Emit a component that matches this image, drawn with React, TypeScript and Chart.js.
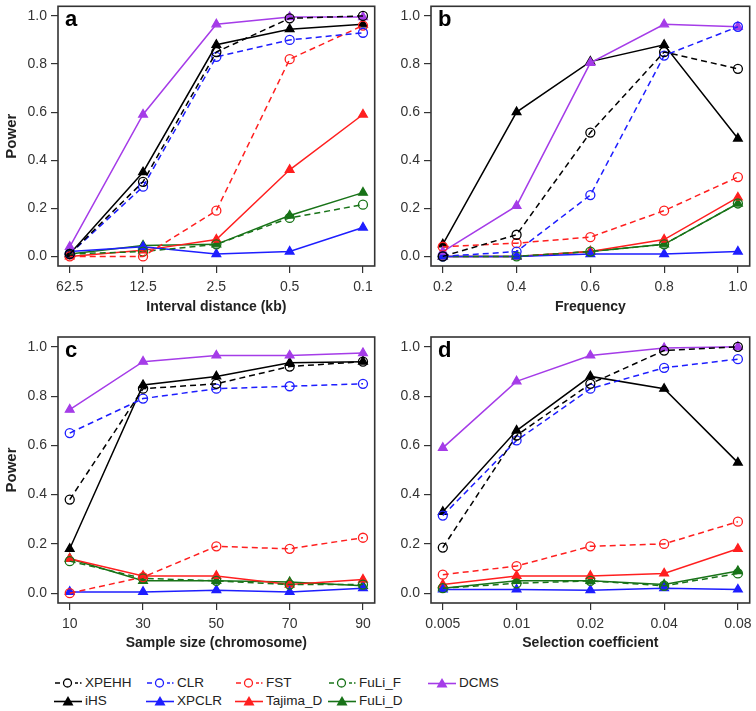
import React, { useEffect, useRef } from 'react';
import { Chart, registerables } from 'chart.js';
Chart.register(...registerables);

// ---------- data ----------
const SERIES_NAMES = ['XPEHH', 'CLR', 'FST', 'FuLi_F', 'DCMS', 'iHS', 'XPCLR', 'Tajima_D', 'FuLi_D'];

const LABELS_A = ['62.5', '12.5', '2.5', '0.5', '0.1'];
const A_XPEHH = [0.01, 0.31, 0.85, 0.99, 1.0];
const A_CLR = [0.01, 0.29, 0.83, 0.9, 0.93];
const A_FST = [0.0, 0.0, 0.19, 0.82, 0.96];
const A_FULI_F = [0.01, 0.02, 0.05, 0.16, 0.215];
const A_DCMS = [0.04, 0.59, 0.965, 0.995, 0.995];
const A_IHS = [0.01, 0.35, 0.88, 0.945, 0.965];
const A_XPCLR = [0.02, 0.04, 0.01, 0.02, 0.12];
const A_TAJIMA = [0.0, 0.025, 0.07, 0.36, 0.59];
const A_FULI_D = [0.01, 0.045, 0.05, 0.17, 0.265];

const LABELS_B = ['0.2', '0.4', '0.6', '0.8', '1.0'];
const B_XPEHH = [0.0, 0.09, 0.515, 0.85, 0.78];
const B_CLR = [0.0, 0.02, 0.255, 0.835, 0.955];
const B_FST = [0.04, 0.055, 0.08, 0.19, 0.33];
const B_FULI_F = [0.0, 0.0, 0.02, 0.05, 0.22];
const B_DCMS = [0.02, 0.21, 0.805, 0.965, 0.955];
const B_IHS = [0.05, 0.6, 0.81, 0.88, 0.49];
const B_XPCLR = [0.0, 0.0, 0.01, 0.01, 0.02];
const B_TAJIMA = [0.0, 0.0, 0.02, 0.07, 0.245];
const B_FULI_D = [0.0, 0.0, 0.02, 0.05, 0.22];

const LABELS_C = ['10', '30', '50', '70', '90'];
const C_XPEHH = [0.38, 0.83, 0.85, 0.92, 0.94];
const C_CLR = [0.65, 0.79, 0.83, 0.84, 0.85];
const C_FST = [0.0, 0.065, 0.19, 0.18, 0.225];
const C_FULI_F = [0.13, 0.06, 0.05, 0.035, 0.035];
const C_DCMS = [0.745, 0.94, 0.965, 0.965, 0.975];
const C_IHS = [0.18, 0.845, 0.88, 0.935, 0.94];
const C_XPCLR = [0.005, 0.005, 0.012, 0.005, 0.02];
const C_TAJIMA = [0.14, 0.07, 0.07, 0.035, 0.055];
const C_FULI_D = [0.14, 0.05, 0.05, 0.045, 0.03];

const LABELS_D = ['0.005', '0.01', '0.02', '0.04', '0.08'];
const D_XPEHH = [0.185, 0.64, 0.85, 0.985, 1.0];
const D_CLR = [0.315, 0.62, 0.83, 0.915, 0.95];
const D_FST = [0.075, 0.11, 0.19, 0.2, 0.29];
const D_FULI_F = [0.02, 0.04, 0.05, 0.03, 0.08];
const D_DCMS = [0.59, 0.86, 0.965, 0.995, 1.0];
const D_IHS = [0.33, 0.66, 0.88, 0.83, 0.53];
const D_XPCLR = [0.015, 0.015, 0.012, 0.02, 0.015];
const D_TAJIMA = [0.035, 0.07, 0.07, 0.08, 0.18];
const D_FULI_D = [0.02, 0.05, 0.05, 0.035, 0.09];

const Y_TICKS = [0, 0.2, 0.4, 0.6, 0.8, 1.0];

// ---------- styles ----------
const BLACK = '#000000';
const BLUE = '#1e1eff';
const RED = '#ff1f1f';
const GREEN = '#187318';
const PURPLE = '#a53ce8';

const STYLE: Record<string, { color: string; dashed: boolean; tri: boolean }> = {
  XPEHH: { color: BLACK, dashed: true, tri: false },
  CLR: { color: BLUE, dashed: true, tri: false },
  FST: { color: RED, dashed: true, tri: false },
  FuLi_F: { color: GREEN, dashed: true, tri: false },
  DCMS: { color: PURPLE, dashed: false, tri: true },
  iHS: { color: BLACK, dashed: false, tri: true },
  XPCLR: { color: BLUE, dashed: false, tri: true },
  Tajima_D: { color: RED, dashed: false, tri: true },
  FuLi_D: { color: GREEN, dashed: false, tri: true },
};

const FONT = '"Liberation Sans", Arial, sans-serif';

const boxPlugin = {
  id: 'panelBox',
  afterDraw(chart: any, _args: any, opts: any) {
    const { ctx, chartArea } = chart;
    const { left, top, right, bottom } = chartArea;
    ctx.save();
    ctx.strokeStyle = '#333';
    ctx.lineWidth = 1.6;
    ctx.strokeRect(left, top, right - left, bottom - top);
    ctx.fillStyle = '#000';
    ctx.font = `bold 22px ${FONT}`;
    ctx.textBaseline = 'alphabetic';
    ctx.textAlign = 'left';
    ctx.fillText(opts.letter, left + 7, top + 20);
    ctx.restore();
  },
};

type PanelProps = {
  left: number;
  top: number;
  width: number;
  height: number;
  yAxisWidth: number;
  xAxisHeight: number;
  padTop: number;
  padRight: number;
  labels: string[];
  series: number[][];
  xTitle: string;
  showYTitle: boolean;
  letter: string;
};

function Panel(p: PanelProps) {
  const ref = useRef<HTMLCanvasElement | null>(null);
  useEffect(() => {
    if (!ref.current) return;
    const datasets = SERIES_NAMES.map((name, i) => {
      const st = STYLE[name];
      return {
        label: name,
        data: p.series[i].map((v, j) => ({ x: j, y: v })),
        borderColor: st.color,
        backgroundColor: st.color,
        borderWidth: 1.5,
        borderDash: st.dashed ? [6, 4] : [],
        pointStyle: st.tri ? 'triangle' : 'circle',
        pointRadius: st.tri ? 5 : 4.5,
        pointBorderWidth: 1.3,
        pointBackgroundColor: st.tri ? st.color : 'rgba(0,0,0,0)',
        pointBorderColor: st.color,
        tension: 0,
        order: i,
      };
    });
    const chart = new Chart(ref.current, {
      type: 'line',
      data: { datasets },
      plugins: [boxPlugin],
      options: {
        animation: false,
        responsive: false,
        layout: { padding: { top: p.padTop, right: p.padRight, left: 0, bottom: 0 } },
        plugins: {
          legend: { display: false },
          tooltip: { enabled: false },
          panelBox: { letter: p.letter },
        } as any,
        scales: {
          x: {
            type: 'linear',
            min: -0.16,
            max: 4.16,
            afterBuildTicks: (s: any) => {
              s.ticks = p.labels.map((_, i) => ({ value: i }));
            },
            afterFit: (s: any) => {
              s.height = p.xAxisHeight;
              s.paddingLeft = 0;
              s.paddingRight = 0;
            },
            ticks: {
              callback: (v: any) => p.labels[v] ?? '',
              font: { family: FONT, size: 14 },
              color: '#333',
              padding: 6,
              maxRotation: 0,
              autoSkip: false,
            },
            grid: { display: true, drawOnChartArea: false, drawTicks: true, tickLength: 7, color: '#333', lineWidth: 1.2 },
            border: { display: false },
            title: {
              display: true,
              text: p.xTitle,
              font: { family: FONT, size: 14, weight: 'bold' },
              color: '#222',
              padding: { top: 0, bottom: 4 },
            },
          },
          y: {
            type: 'linear',
            min: -0.04,
            max: 1.04,
            afterBuildTicks: (s: any) => {
              s.ticks = Y_TICKS.map((v) => ({ value: v }));
            },
            afterFit: (s: any) => {
              s.width = p.yAxisWidth;
              s.paddingTop = 0;
              s.paddingBottom = 0;
            },
            ticks: {
              callback: (v: any) => Number(v).toFixed(1),
              font: { family: FONT, size: 14 },
              color: '#333',
              padding: 4,
            },
            grid: { display: true, drawOnChartArea: false, drawTicks: true, tickLength: 7, color: '#333', lineWidth: 1.2 },
            border: { display: false },
            title: {
              display: p.showYTitle,
              text: 'Power',
              font: { family: FONT, size: 15, weight: 'bold' },
              color: '#222',
              padding: { top: 3, bottom: 0 },
            },
          },
        },
      } as any,
    });
    return () => chart.destroy();
  }, []);
  return (
    <canvas
      ref={ref}
      width={p.width}
      height={p.height}
      style={{ position: 'absolute', left: p.left, top: p.top, width: p.width, height: p.height }}
    />
  );
}

function LegendMark({ name }: { name: string }) {
  const st = STYLE[name];
  return (
    <svg width={28} height={14} style={{ display: 'block' }}>
      {st.dashed ? (
        <>
          <line x1={1} y1={7} x2={6} y2={7} stroke={st.color} strokeWidth={1.5} />
          <line x1={21} y1={7} x2={24} y2={7} stroke={st.color} strokeWidth={1.5} />
          <line x1={26} y1={7} x2={27.5} y2={7} stroke={st.color} strokeWidth={1.5} />
          <circle cx={13.5} cy={7} r={4} fill="none" stroke={st.color} strokeWidth={1.3} />
        </>
      ) : (
        <>
          <line x1={0} y1={7.5} x2={28} y2={7.5} stroke={st.color} strokeWidth={1.6} />
          <polygon points="14,2 19.5,11.5 8.5,11.5" fill={st.color} />
        </>
      )}
    </svg>
  );
}

const LEGEND_POS: Record<string, [number, number]> = {
  XPEHH: [54, 674],
  CLR: [146, 674],
  FST: [235, 674],
  FuLi_F: [328, 674],
  DCMS: [428, 674],
  iHS: [54, 692],
  XPCLR: [146, 692],
  Tajima_D: [235, 692],
  FuLi_D: [328, 692],
};

export default function App() {
  return (
    <div style={{ position: 'absolute', left: 0, top: 0, width: 756, height: 711, background: '#fff', overflow: 'hidden' }}>
      <Panel left={0} top={0} width={381} height={320} yAxisWidth={58} xAxisHeight={54} padTop={3} padRight={2}
        labels={LABELS_A} series={[A_XPEHH, A_CLR, A_FST, A_FULI_F, A_DCMS, A_IHS, A_XPCLR, A_TAJIMA, A_FULI_D]}
        xTitle="Interval distance (kb)" showYTitle={true} letter="a" />
      <Panel left={378} top={0} width={378} height={320} yAxisWidth={53} xAxisHeight={54} padTop={3} padRight={2}
        labels={LABELS_B} series={[B_XPEHH, B_CLR, B_FST, B_FULI_F, B_DCMS, B_IHS, B_XPCLR, B_TAJIMA, B_FULI_D]}
        xTitle="Frequency" showYTitle={false} letter="b" />
      <Panel left={0} top={320} width={381} height={336} yAxisWidth={58} xAxisHeight={53} padTop={17} padRight={2}
        labels={LABELS_C} series={[C_XPEHH, C_CLR, C_FST, C_FULI_F, C_DCMS, C_IHS, C_XPCLR, C_TAJIMA, C_FULI_D]}
        xTitle="Sample size (chromosome)" showYTitle={true} letter="c" />
      <Panel left={378} top={320} width={378} height={336} yAxisWidth={53} xAxisHeight={53} padTop={17} padRight={2}
        labels={LABELS_D} series={[D_XPEHH, D_CLR, D_FST, D_FULI_F, D_DCMS, D_IHS, D_XPCLR, D_TAJIMA, D_FULI_D]}
        xTitle="Selection coefficient" showYTitle={false} letter="d" />
      {SERIES_NAMES.map((name) => (
        <div key={name} style={{ position: 'absolute', left: LEGEND_POS[name][0], top: LEGEND_POS[name][1], display: 'flex', alignItems: 'center', gap: 3, fontFamily: FONT, fontSize: 13.5, color: '#222', lineHeight: '17px' }}>
          <LegendMark name={name} />
          <span>{name}</span>
        </div>
      ))}
    </div>
  );
}
